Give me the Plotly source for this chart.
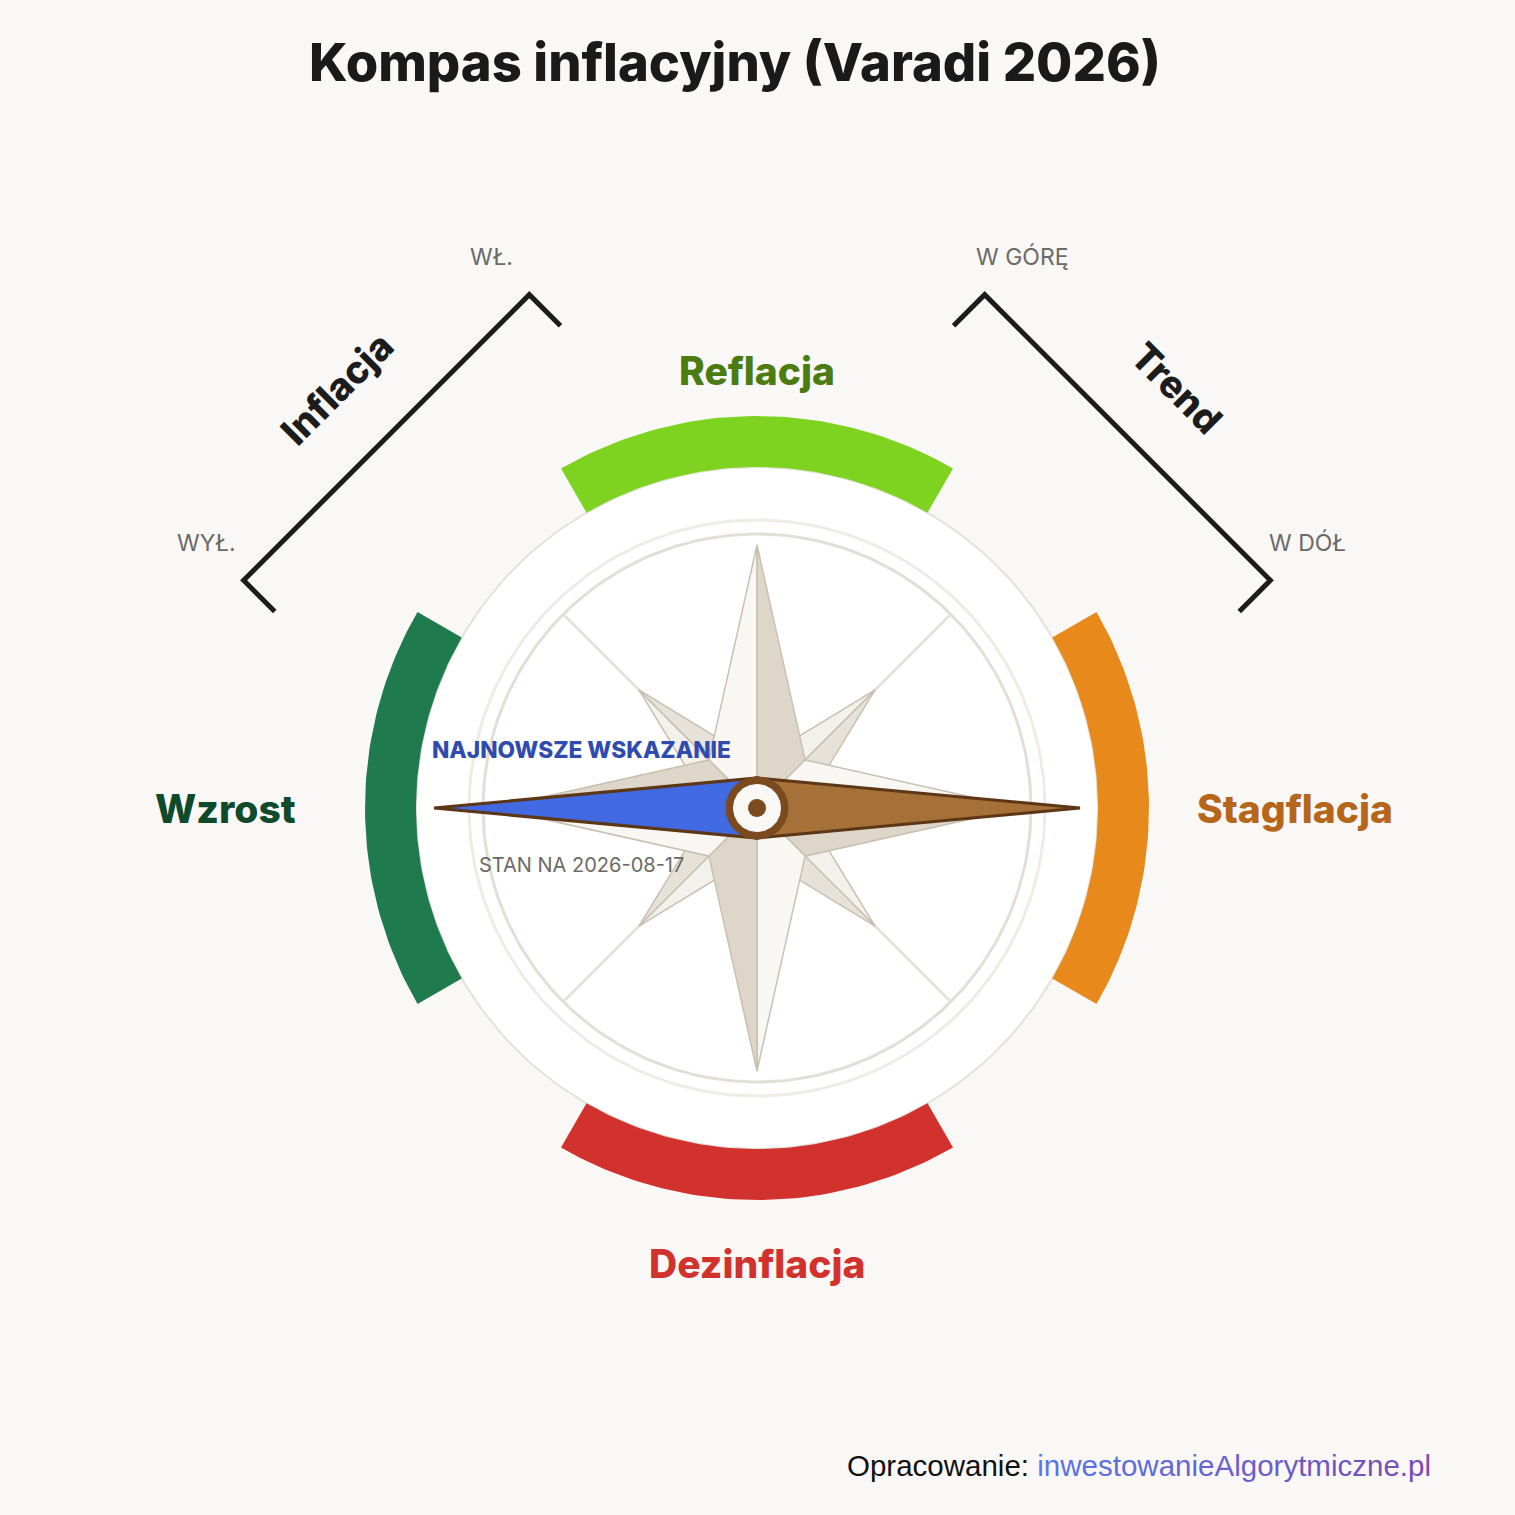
import numpy as np
import plotly.graph_objects as go

# ---------------- data ----------------
title = "Kompas inflacyjny (Varadi 2026)"
quadrants = ["Reflacja", "Stagflacja", "Dezinflacja", "Wzrost"]
quadrant_angles = [90, 0, 270, 180]
band_colors = ["#7ed321", "#e8891c", "#d2322d", "#1f7a4e"]
label_colors = ["#4a7c12", "#b5661a", "#d2322d", "#0f4a2c"]
needle_angle = 180          # latest reading points to "Wzrost"
reading_title = "NAJNOWSZE WSKAZANIE"
reading_date = "2026-08-17"
axis_names = ["Inflacja", "Trend"]
axis_ends = [["WYŁ.", "WŁ."], ["W GÓRĘ", "W DÓŁ"]]
source_prefix = "Opracowanie: "
source_site = "inwestowanieAlgorytmiczne.pl"

# ---------------- geometry / style ----------------
W = H = 1515
CX, CY = 757, 808
BG = "#f9f8f6"
R_DISC, R_BAND = 341, 392
R_RING1, R_RING2 = 288, 274
R_MAIN, R_MAIN_IN = 263, 68
R_DIAG, R_DIAG_IN = 167, 46
R_NEEDLE, NEEDLE_HW = 323, 30
BOLD = 800


def pt(r, a):
    t = np.deg2rad(a)
    return r * np.cos(t), r * np.sin(t)


def circle(r, n=240):
    t = np.linspace(0, 2 * np.pi, n)
    return list(r * np.cos(t)), list(r * np.sin(t))


fig = go.Figure()


def poly(xs, ys, fill, line_color=None, lw=0):
    fig.add_trace(go.Scatter(
        x=list(xs) + [xs[0]], y=list(ys) + [ys[0]], mode="lines", fill="toself",
        fillcolor=fill, line=dict(color=line_color or fill, width=lw),
        hoverinfo="skip", showlegend=False))


def line(xs, ys, color, lw):
    fig.add_trace(go.Scatter(x=xs, y=ys, mode="lines",
                             line=dict(color=color, width=lw),
                             hoverinfo="skip", showlegend=False))


# white disc
x, y = circle(R_DISC)
poly(x, y, "#ffffff", "#e4e1da", 2)

# coloured bands
for a, c in zip(quadrant_angles, band_colors):
    t = np.linspace(a - 30, a + 30, 60)
    xo = [pt(R_BAND, v)[0] for v in t]
    yo = [pt(R_BAND, v)[1] for v in t]
    xi = [pt(R_DISC, v)[0] for v in t[::-1]]
    yi = [pt(R_DISC, v)[1] for v in t[::-1]]
    poly(xo + xi, yo + yi, c)

# rings
x, y = circle(R_RING1)
line(x, y, "#efece6", 3)
x, y = circle(R_RING2)
line(x, y, "#e3dfd6", 3)

# diagonal rays
for a in [45, 135, 225, 315]:
    x1, y1 = pt(R_RING2, a)
    line([0, x1], [0, y1], "#e6e2da", 3)

STROKE = "#c9c0b1"
# diagonal star points
for a in [45, 135, 225, 315]:
    tx, ty = pt(R_DIAG, a)
    lx, ly = pt(R_DIAG_IN, a + 45)
    rx, ry = pt(R_DIAG_IN, a - 45)
    poly([0, lx, tx], [0, ly, ty], "#f3f1ec", STROKE, 1.5)
    poly([0, tx, rx], [0, ty, ry], "#e6e2d9", STROKE, 1.5)

# main star points
for a in [90, 0, 270, 180]:
    tx, ty = pt(R_MAIN, a)
    lx, ly = pt(R_MAIN_IN, a + 45)
    rx, ry = pt(R_MAIN_IN, a - 45)
    poly([0, lx, tx], [0, ly, ty], "#f8f7f3", STROKE, 1.5)
    poly([0, tx, rx], [0, ty, ry], "#ddd6c9", STROKE, 1.5)

# needle
hx, hy = pt(R_NEEDLE, needle_angle)
bx, by = pt(R_NEEDLE, needle_angle + 180)
s1x, s1y = pt(NEEDLE_HW, needle_angle + 90)
s2x, s2y = pt(NEEDLE_HW, needle_angle - 90)
poly([hx, s1x, s2x], [hy, s1y, s2y], "#4169e1", "#5c3615", 3)
poly([bx, s1x, s2x], [by, s1y, s2y], "#a67139", "#5c3615", 3)

# hub
x, y = circle(31.5, 120)
poly(x, y, "#7b4a1f")
x, y = circle(24, 120)
poly(x, y, "#f9f8f5")
x, y = circle(9, 80)
poly(x, y, "#7b4a1f")

# axis brackets
BR_DIST, BR_HALF, TICK = 524, 202, 44
ann = []
for name, ends, a in zip(axis_names, axis_ends, [135, 45]):
    mx, my = pt(BR_DIST, a)
    ux, uy = pt(1, a - 90)       # along bracket
    ix, iy = pt(1, a + 180)      # inward
    order = [(mx - ux * BR_HALF, my - uy * BR_HALF), (mx + ux * BR_HALF, my + uy * BR_HALF)]
    (ax0, ay0), (ax1, ay1) = order
    xs = [ax0 + ix * TICK, ax0, ax1, ax1 + ix * TICK]
    ys = [ay0 + iy * TICK, ay0, ay1, ay1 + iy * TICK]
    fig.add_trace(go.Scatter(x=xs, y=ys, mode="lines",
                             line=dict(color="#1c1c1c", width=5),
                             hoverinfo="skip", showlegend=False))
    ox, oy = pt(53, a)
    for (ex, ey), txt in zip(order, ends):
        ann.append(dict(x=ex + ox, y=ey + oy, text=txt, showarrow=False,
                        font=dict(family="Inter", size=23, color="#6b6a66")))
    lx, ly = pt(BR_DIST + 70, a)
    ann.append(dict(x=lx, y=ly, text=name, showarrow=False,
                    textangle=-45 if a == 135 else 45,
                    font=dict(family="Inter", size=38, color="#1c1c1c", weight=BOLD)))

# quadrant labels
for q, a, c in zip(quadrants, quadrant_angles, label_colors):
    if a == 90:
        d = dict(x=0, y=438, xanchor="center", yanchor="middle")
    elif a == 270:
        d = dict(x=0, y=-455, xanchor="center", yanchor="middle")
    elif a == 0:
        d = dict(x=438, y=0, xanchor="left", yanchor="middle")
    else:
        d = dict(x=-459, y=0, xanchor="right", yanchor="middle")
    ann.append(dict(text=q, showarrow=False,
                    font=dict(family="Inter", size=39, color=c, weight=BOLD), **d))

# reading labels
rx_, ry_ = pt(176, needle_angle)
ann.append(dict(x=rx_, y=ry_ + 59, text=reading_title, showarrow=False,
                font=dict(family="Inter", size=22.7, color="#2f4bae", weight=BOLD)))
ann.append(dict(x=rx_, y=ry_ - 57, text="STAN NA " + reading_date, showarrow=False,
                font=dict(family="Inter", size=20, color="#6b6a66")))

# title
ann.append(dict(xref="paper", yref="paper", x=735 / W, y=1 - 62 / H,
                xanchor="center", yanchor="middle",
                text=title, showarrow=False,
                font=dict(family="Inter", size=52.5, color="#1a1a1a", weight=BOLD)))

# source with gradient-coloured link
c0 = np.array([0x5a, 0x76, 0xe8])
c1 = np.array([0x7c, 0x4a, 0xb2])
parts = []
n = len(source_site)
for i, ch in enumerate(source_site):
    c = (c0 + (c1 - c0) * i / (n - 1)).astype(int)
    parts.append(f"<span style='color:#{c[0]:02x}{c[1]:02x}{c[2]:02x}'>{ch}</span>")
ann.append(dict(xref="paper", yref="paper", x=1433 / W, y=1 - 1465 / H,
                xanchor="right", yanchor="middle",
                text=source_prefix + "".join(parts), showarrow=False,
                font=dict(family="Liberation Sans, Arial", size=29.5, color="#111111")))

fig.update_layout(
    width=W, height=H,
    margin=dict(l=0, r=0, t=0, b=0),
    paper_bgcolor=BG, plot_bgcolor=BG,
    xaxis=dict(range=[-CX, W - CX], visible=False, fixedrange=True),
    yaxis=dict(range=[CY - H, CY], visible=False, fixedrange=True,
               scaleanchor="x", scaleratio=1),
    annotations=ann,
    showlegend=False,
)

fig.write_html("out.html", config={"displayModeBar": False},
               post_script="document.body.style.margin='0';"
                           "document.body.style.background='" + BG + "';"
                           "document.body.style.overflow='hidden';")
